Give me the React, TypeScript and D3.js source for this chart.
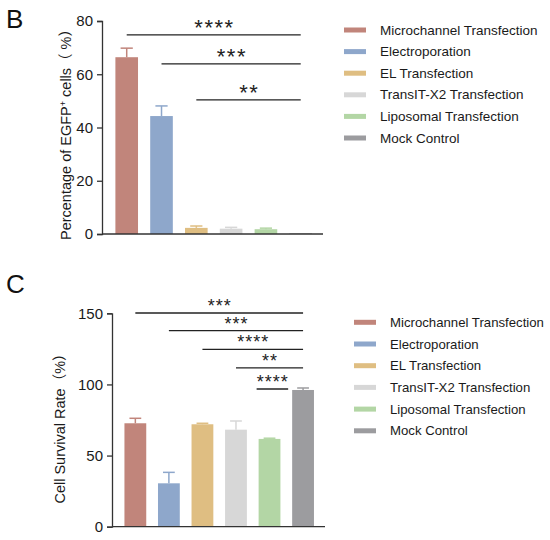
import { useEffect, useRef } from 'react';
import * as d3 from 'd3';

// groups and colours shared by both panels
const groups = [
  'Microchannel Transfection',
  'Electroporation',
  'EL Transfection',
  'TransIT-X2 Transfection',
  'Liposomal Transfection',
  'Mock Control',
];
const barColors = ['#c1857b', '#8ea7cb', '#dfbe82', '#d7d7d7', '#b3d6a5', '#9c9c9f'];

// panel B: percentage of EGFP+ cells
const egfpMean = [66.4, 44.3, 2.3, 2.0, 1.8, 0.2];
const egfpErr = [3.4, 3.8, 0.7, 0.5, 0.4, 0];
const egfpTicks = [0, 20, 40, 60, 80];
const egfpSig = [
  { from: 0, to: 5, y: 74.8, label: '****' },
  { from: 1, to: 5, y: 63.9, label: '***' },
  { from: 2, to: 5, y: 50.4, label: '**' },
];

// panel C: cell survival rate
const survMean = [72.7, 30.5, 72.0, 68.2, 61.7, 96.1];
const survErr = [3.5, 7.7, 0.7, 6.1, 0.5, 1.4];
const survTicks = [0, 50, 100, 150];
const survSig = [
  { from: 0, to: 5, y: 150.2, label: '***' },
  { from: 1, to: 5, y: 137.8, label: '***' },
  { from: 2, to: 5, y: 124.7, label: '****' },
  { from: 3, to: 5, y: 111.6, label: '**' },
  { from: 4, to: 5, y: 96.8, label: '****', adjacent: true },
];

const FONT = "'Liberation Sans', Arial, 'Noto Sans CJK SC', sans-serif";

interface PanelOpts {
  letter: string;
  letterY: number;
  axisX: number;
  axisEnd: number;
  yTop: number;
  yBottom: number;
  yMax: number;
  align: number;
  means: number[];
  errs: number[];
  ticks: number[];
  sig: { from: number; to: number; y: number; label: string; adjacent?: boolean }[];
  starSize: number;
  starSpacing: number;
  starLift: number;
  labelX: number;
  labelY: number;
  legendX: number;
  legendY: number;
  legendStep: number;
  legendFont: number;
}

function drawPanel(root: d3.Selection<SVGSVGElement, unknown, null, undefined>, o: PanelOpts, yLabel: (t: d3.Selection<SVGTextElement, unknown, null, undefined>) => void) {
  const g = root.append('g');

  const x = d3.scaleBand<number>()
    .domain(d3.range(groups.length))
    .range([o.axisX, o.axisEnd])
    .paddingInner(0.35)
    .paddingOuter(0.35)
    .align(o.align);

  const y = d3.scaleLinear()
    .domain([0, o.yMax])
    .range([o.yBottom, o.yTop]);

  // panel letter
  g.append('text')
    .attr('x', 6)
    .attr('y', o.letterY)
    .attr('font-size', 26)
    .attr('font-family', FONT)
    .attr('fill', '#111')
    .text(o.letter);

  // bars
  g.selectAll('.bar')
    .data(o.means)
    .enter()
    .append('rect')
    .attr('x', (_, i) => x(i)!)
    .attr('y', d => y(d))
    .attr('width', x.bandwidth())
    .attr('height', d => o.yBottom - y(d))
    .attr('fill', (_, i) => barColors[i]);

  // error bars
  const cap = x.bandwidth() * 0.27;
  o.means.forEach((m, i) => {
    if (!o.errs[i]) return;
    const cx = x(i)! + x.bandwidth() / 2;
    g.append('line')
      .attr('x1', cx).attr('x2', cx)
      .attr('y1', y(m)).attr('y2', y(m + o.errs[i]))
      .attr('stroke', barColors[i])
      .attr('stroke-width', 1.5);
    g.append('line')
      .attr('x1', cx - cap).attr('x2', cx + cap)
      .attr('y1', y(m + o.errs[i])).attr('y2', y(m + o.errs[i]))
      .attr('stroke', barColors[i])
      .attr('stroke-width', 1.5);
  });

  // y axis
  const yAxis = g.append('g')
    .attr('transform', `translate(${o.axisX},0)`)
    .call(d3.axisLeft(y).tickValues(o.ticks).tickSize(5).tickPadding(4));
  yAxis.select('.domain').attr('stroke', '#333').attr('stroke-width', 1.3);
  yAxis.selectAll('.tick line').attr('stroke', '#333').attr('stroke-width', 1.3);
  yAxis.selectAll('.tick text')
    .attr('font-size', 15)
    .attr('font-family', FONT)
    .attr('fill', '#1a1a1a');

  // x axis baseline
  g.append('line')
    .attr('x1', o.axisX).attr('x2', o.axisEnd)
    .attr('y1', o.yBottom).attr('y2', o.yBottom)
    .attr('stroke', '#333')
    .attr('stroke-width', 1.3);

  // y axis label
  const lab = g.append('text')
    .attr('transform', `translate(${o.labelX},${o.labelY}) rotate(-90)`)
    .attr('text-anchor', 'middle')
    .attr('font-size', 14.5)
    .attr('font-family', FONT)
    .attr('fill', '#1a1a1a');
  yLabel(lab);

  // significance brackets
  const center = (i: number) => x(i)! + x.bandwidth() / 2;
  o.sig.forEach(s => {
    const x1 = s.adjacent ? x(s.from)! - 2 : center(s.from);
    const x2 = s.adjacent ? x(s.to)! - 4 : center(s.to);
    g.append('line')
      .attr('x1', x1).attr('x2', x2)
      .attr('y1', y(s.y)).attr('y2', y(s.y))
      .attr('stroke', '#222')
      .attr('stroke-width', 1.3);
    g.append('text')
      .attr('x', (x1 + x2) / 2 + o.starSpacing / 2)
      .attr('y', y(s.y) - o.starLift)
      .attr('text-anchor', 'middle')
      .attr('font-size', o.starSize)
      .attr('font-family', FONT)
      .attr('letter-spacing', o.starSpacing)
      .attr('fill', '#222')
      .text(s.label);
  });

  // legend
  const leg = g.append('g');
  groups.forEach((name, i) => {
    const cy = o.legendY + i * o.legendStep;
    leg.append('rect')
      .attr('x', o.legendX)
      .attr('y', cy - 2.5)
      .attr('width', 22)
      .attr('height', 5)
      .attr('fill', barColors[i]);
    leg.append('text')
      .attr('x', o.legendX + 36)
      .attr('y', cy)
      .attr('dominant-baseline', 'central')
      .attr('font-size', o.legendFont)
      .attr('font-family', FONT)
      .attr('fill', '#1a1a1a')
      .text(name);
  });
}

export default function App() {
  const svgRef = useRef<SVGSVGElement | null>(null);

  useEffect(() => {
    if (!svgRef.current) return;
    const svg = d3.select(svgRef.current);
    svg.selectAll('*').remove();

    drawPanel(svg, {
      letter: 'B', letterY: 28,
      axisX: 102, axisEnd: 323, yTop: 21, yBottom: 234, yMax: 80, align: 0.55,
      means: egfpMean, errs: egfpErr, ticks: egfpTicks, sig: egfpSig,
      starSize: 22, starSpacing: 1.5, starLift: 0,
      labelX: 71, labelY: 131,
      legendX: 344, legendY: 30, legendStep: 21.6, legendFont: 13.5,
    }, t => {
      t.append('tspan').text('Percentage of EGFP');
      t.append('tspan').attr('font-size', 9).attr('dy', -5).text('+');
      t.append('tspan').attr('dy', 5).text(' cells（ %）');
    });

    drawPanel(svg, {
      letter: 'C', letterY: 293,
      axisX: 112, axisEnd: 325, yTop: 313.3, yBottom: 526.7, yMax: 150, align: 0.53,
      means: survMean, errs: survErr, ticks: survTicks, sig: survSig,
      starSize: 18, starSpacing: 1, starLift: 1,
      labelX: 65, labelY: 425,
      legendX: 354, legendY: 322.3, legendStep: 21.7, legendFont: 13.2,
    }, t => {
      t.text('Cell Survival Rate（%）');
    });
  }, []);

  return (
    <svg
      ref={svgRef}
      width={550}
      height={540}
      style={{ position: 'absolute', left: 0, top: 0, background: '#fff' }}
    />
  );
}
